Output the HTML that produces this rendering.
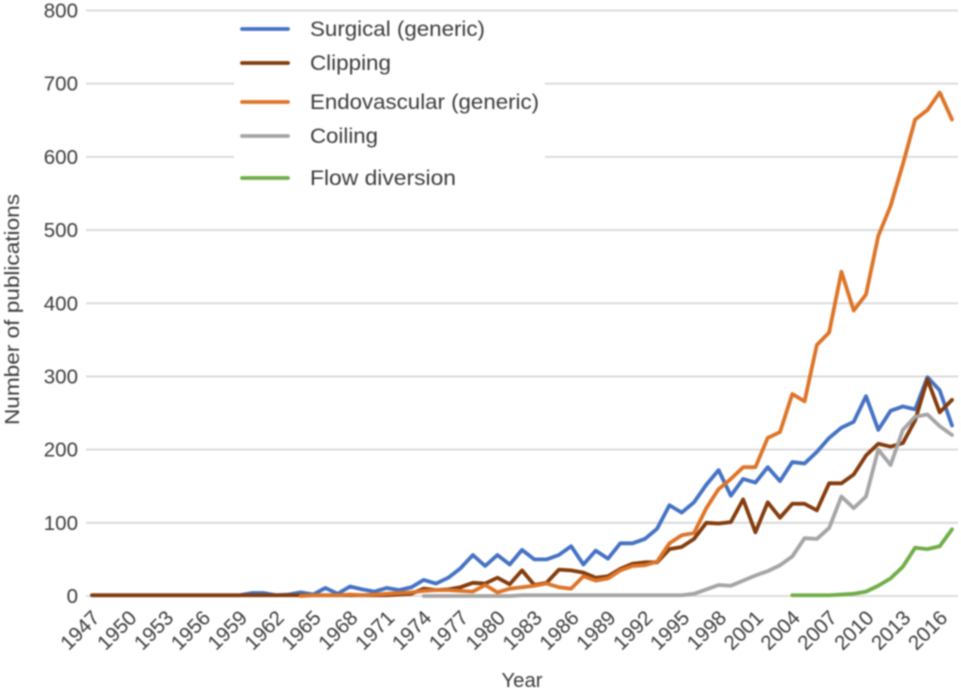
<!DOCTYPE html>
<html lang="en">
<head>
<meta charset="utf-8">
<title>Publications by year</title>
<style>
html,body{margin:0;padding:0;background:#fff;width:961px;height:693px;overflow:hidden}
svg{display:block;filter:blur(0.7px)}
text{font-family:"Liberation Sans",Arial,sans-serif;fill:#3c3c3c}
</style>
</head>
<body>
<svg id="chart" xmlns="http://www.w3.org/2000/svg" width="961" height="693" viewBox="0 0 961 693"></svg>
<script>
const years = [1947,1948,1949,1950,1951,1952,1953,1954,1955,1956,1957,1958,1959,1960,1961,1962,1963,1964,1965,1966,1967,1968,1969,1970,1971,1972,1973,1974,1975,1976,1977,1978,1979,1980,1981,1982,1983,1984,1985,1986,1987,1988,1989,1990,1991,1992,1993,1994,1995,1996,1997,1998,1999,2000,2001,2002,2003,2004,2005,2006,2007,2008,2009,2010,2011,2012,2013,2014,2015,2016,2017];
const yTicks = [0,100,200,300,400,500,600,700,800];
const xTickLabels = [1947,1950,1953,1956,1959,1962,1965,1968,1971,1974,1977,1980,1983,1986,1989,1992,1995,1998,2001,2004,2007,2010,2013,2016];
const surgical = [1,1,1,1,1,1,1,1,1,1,1,1,1,4,4,1,2,5,2,11,3,13,9,6,11,8,12,22,17,25,38,56,41,56,43,63,50,50,56,68,43,62,51,72,72,78,92,124,114,128,152,172,137,160,155,176,157,183,181,197,216,230,238,273,227,253,259,255,299,281,233];
const clipping = [1,1,1,1,1,1,1,1,1,1,1,1,1,1,1,1,1,1,1,1,1,1,1,1,1,2,3,10,8,9,12,18,17,25,16,35,15,18,36,35,32,25,27,37,44,46,46,64,67,78,100,99,101,132,87,128,107,126,126,117,154,154,166,192,208,204,209,240,296,251,268];
const endovascular = [null,null,null,null,null,null,null,null,null,null,null,null,null,null,null,null,null,0,1,1,1,2,1,2,3,4,5,7,8,8,7,6,15,5,10,12,14,17,12,10,27,21,24,35,41,42,47,72,83,86,120,146,160,176,176,216,224,276,266,343,360,443,390,412,492,533,590,651,664,688,651];
const coiling = [null,null,null,null,null,null,null,null,null,null,null,null,null,null,null,null,null,null,null,null,null,null,null,null,null,null,null,0,0,0,0,0,0,0,0,1,1,1,1,1,1,1,1,1,1,1,1,1,1,3,9,15,14,21,28,34,42,54,79,78,93,136,120,136,200,179,227,245,248,232,220];
const flowDiversion = [null,null,null,null,null,null,null,null,null,null,null,null,null,null,null,null,null,null,null,null,null,null,null,null,null,null,null,null,null,null,null,null,null,null,null,null,null,null,null,null,null,null,null,null,null,null,null,null,null,null,null,null,null,null,null,null,null,1,1,1,1,2,3,6,14,24,40,66,64,68,91];
const seriesNames = ["Surgical (generic)","Clipping","Endovascular (generic)","Coiling","Flow diversion"];
const seriesColors = ["#4472c4","#843c0c","#dd7428","#a5a5a5","#70ad47"];
const seriesValues = [surgical,clipping,endovascular,coiling,flowDiversion];
const seriesSlugs = ["surgical","clipping","endovascular","coiling","flow-diversion"];

const NS = "http://www.w3.org/2000/svg";
const svg = document.getElementById("chart");
const yearStart = years[0], yearEnd = years[years.length - 1];
const xScale = y => 92 + (y - yearStart) * (952 - 92) / (yearEnd - yearStart);
const yScale = v => 596 - v * (596 - 10.5) / 800;

function make(tag, attrs, parent) {
  const el = document.createElementNS(NS, tag);
  for (const k in attrs) el.setAttribute(k, attrs[k]);
  (parent || svg).appendChild(el);
  return el;
}

// gridlines and y tick labels
yTicks.forEach(t => {
  const line = make("line", {x1: 86, x2: 958, y1: yScale(t), y2: yScale(t), stroke: "#d8d8d8", "stroke-width": 1.8});
  
  
  const label = make("text", {x: 78, y: yScale(t) + 7, "text-anchor": "end", "font-size": 20.5});
  
  
  label.textContent = t;
});

// x tick labels
xTickLabels.forEach(y => {
  const px = xScale(y);
  const label = make("text", {x: 0, y: 0, "text-anchor": "end", "font-size": 20.5, transform: "translate(" + (px + 9) + " 619) rotate(-45)"});
  
  
  label.textContent = y;
});

// axis titles
const xTitle = make("text", {x: 522, y: 687, "text-anchor": "middle", "font-size": 20, textLength: 41, lengthAdjust: "spacingAndGlyphs"});


xTitle.textContent = "Year";

const yTitle = make("text", {x: 0, y: 0, "text-anchor": "middle", "font-size": 20, textLength: 231, lengthAdjust: "spacingAndGlyphs", transform: "translate(19 309.5) rotate(-90)"});


yTitle.textContent = "Number of publications";

// legend backdrop hides gridlines
const legendBg = make("rect", {x: 234, y: 14, width: 311, height: 178, fill: "#fff"});



// series lines
seriesValues.forEach((vals, s) => {
  let d = "", started = false;
  vals.forEach((v, i) => {
    if (v === null) return;
    d += (started ? "L" : "M") + xScale(years[i]).toFixed(2) + " " + yScale(v).toFixed(2);
    started = true;
  });
  const path = make("path", {d: d, fill: "none", stroke: seriesColors[s], "stroke-width": 3.8, "stroke-linejoin": "round", "stroke-linecap": "round"});
  
  
});

// legend
const legendY = [29, 63, 102, 136, 178];
const legendLen = [175, 81, 229, 68, 146];
seriesNames.forEach((n, s) => {
  const sw = make("line", {x1: 242, x2: 288, y1: legendY[s], y2: legendY[s], stroke: seriesColors[s], "stroke-width": 3.8, "stroke-linecap": "round"});
  
  
  const tx = make("text", {x: 310, y: legendY[s] + 7, "font-size": 21, textLength: legendLen[s], lengthAdjust: "spacingAndGlyphs"});
  
  
  tx.textContent = n;
});
</script>
</body>
</html>
